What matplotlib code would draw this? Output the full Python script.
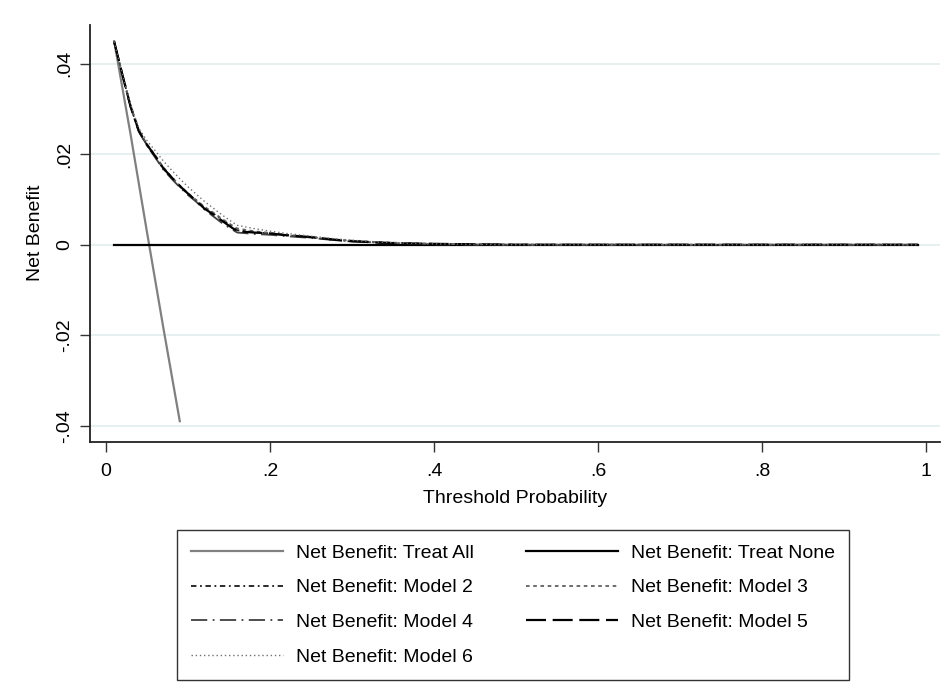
import matplotlib
matplotlib.use("Agg")
import matplotlib.pyplot as plt
import numpy as np

plt.rcParams['font.family'] = ['Liberation Sans', 'DejaVu Sans']

# thresholds
thr_all = [0.01, 0.03, 0.05, 0.07, 0.09]
nb_all = [0.045, 0.0244, 0.0028, -0.0184, -0.039]

thr_none = [0.01, 0.99]
nb_none = [0.0, 0.0]

thr = [0.01, 0.02, 0.03, 0.04, 0.05, 0.06, 0.07, 0.08, 0.09, 0.10, 0.11, 0.12, 0.13, 0.14,
       0.15, 0.16, 0.18, 0.20, 0.22, 0.25, 0.28, 0.30, 0.33, 0.36, 0.40, 0.45, 0.50,
       0.60, 0.70, 0.80, 0.90, 0.99]
nb_m2 = [0.0449, 0.0376, 0.0305, 0.0251, 0.0220, 0.0195, 0.0168, 0.0148, 0.0129, 0.0112, 0.0098, 0.0082, 0.0070, 0.0057,
         0.0045, 0.0032, 0.0028, 0.0025, 0.0021, 0.0016, 0.0010, 0.0008, 0.0005, 0.0003, 0.0002, 0.0001, 0.0,
         0.0, 0.0, 0.0, 0.0, 0.0]
nb_m3 = [0.0449, 0.0377, 0.0307, 0.0254, 0.0222, 0.0198, 0.0171, 0.0150, 0.0131, 0.0114, 0.0099, 0.0084, 0.0072, 0.0059,
         0.0047, 0.0036, 0.0030, 0.0026, 0.0022, 0.0017, 0.0011, 0.0009, 0.0006, 0.0004, 0.0002, 0.0001, 0.0,
         0.0, 0.0, 0.0, 0.0, 0.0]
nb_m4 = [0.0449, 0.0375, 0.0304, 0.0250, 0.0219, 0.0193, 0.0166, 0.0146, 0.0127, 0.0110, 0.0095, 0.0078, 0.0064, 0.0050,
         0.0038, 0.0027, 0.0024, 0.0022, 0.0019, 0.0015, 0.0010, 0.0007, 0.0005, 0.0003, 0.0001, 0.0, 0.0,
         0.0, 0.0, 0.0, 0.0, 0.0]
nb_m5 = [0.0449, 0.0376, 0.0306, 0.0252, 0.0221, 0.0196, 0.0169, 0.0149, 0.0130, 0.0113, 0.0097, 0.0080, 0.0068, 0.0055,
         0.0042, 0.0030, 0.0027, 0.0025, 0.0021, 0.0017, 0.0011, 0.0008, 0.0005, 0.0003, 0.0002, 0.0001, 0.0,
         0.0, 0.0, 0.0, 0.0, 0.0]
nb_m6 = [0.0449, 0.0378, 0.0310, 0.0258, 0.0230, 0.0208, 0.0185, 0.0165, 0.0146, 0.0128, 0.0112, 0.0096, 0.0082, 0.0068,
         0.0055, 0.0043, 0.0036, 0.0030, 0.0025, 0.0019, 0.0013, 0.0010, 0.0006, 0.0004, 0.0002, 0.0001, 0.0,
         0.0, 0.0, 0.0, 0.0, 0.0]

xticks = [0, 0.2, 0.4, 0.6, 0.8, 1.0]
xticklabels = ['0', '.2', '.4', '.6', '.8', '1']
yticks = [-0.04, -0.02, 0.0, 0.02, 0.04]
yticklabels = ['-.04', '-.02', '0', '.02', '.04']

fig = plt.figure(figsize=(9.51, 6.91), dpi=100)
ax = fig.add_axes([0.0946, 0.361, 0.894, 0.603])

for y in yticks:
    ax.axhline(y, color='#e3eeee', lw=1.2, zorder=0)

ax.plot(thr_all, nb_all, color='#808080', lw=1.6, label='Net Benefit: Treat All')
ax.plot(thr_none, nb_none, color='black', lw=1.6, label='Net Benefit: Treat None')
ax.plot(thr, nb_m2, color='#1a1a1a', lw=1.3, dashes=(3, 2, 1, 2), label='Net Benefit: Model 2')
ax.plot(thr, nb_m3, color='#606060', lw=1.3, dashes=(2, 2), label='Net Benefit: Model 3')
ax.plot(thr, nb_m4, color='#404040', lw=1.3, dashes=(9, 3, 1, 3), label='Net Benefit: Model 4')
ax.plot(thr, nb_m5, color='black', lw=1.6, dashes=(9, 3), label='Net Benefit: Model 5')
ax.plot(thr, nb_m6, color='#707070', lw=1.0, dashes=(1, 2), label='Net Benefit: Model 6')

ax.set_xlim(-0.0195, 1.017)
ax.set_ylim(-0.0435, 0.0486)
ax.set_xticks(xticks)
ax.set_xticklabels(xticklabels)
ax.set_yticks(yticks)
ax.set_yticklabels(yticklabels, rotation=90, va='center')
ax.tick_params(labelsize=14, length=7.2, width=1, color='#333333')
ax.tick_params(axis='x', pad=8)
ax.tick_params(axis='y', pad=5)
ax.spines['top'].set_visible(False)
ax.spines['right'].set_visible(False)
for s in ['left', 'bottom']:
    ax.spines[s].set_linewidth(1.3)
    ax.spines[s].set_color('#222222')
ax.set_xlabel('Threshold Probability', fontsize=14, labelpad=7.5)
ax.set_ylabel('Net Benefit', fontsize=14, labelpad=9)

handles, labels = ax.get_legend_handles_labels()
order = [0, 2, 4, 6, 1, 3, 5]
handles = [handles[i] for i in order]
labels = [labels[i] for i in order]
leg = fig.legend(handles, labels, ncol=2, loc='upper left',
                 bbox_to_anchor=(0.186, 0.233), fontsize=14,
                 handlelength=4.75, handletextpad=0.68, columnspacing=2.65,
                 labelspacing=0.88, frameon=True, fancybox=False,
                 borderpad=0.72, borderaxespad=0)
leg.get_frame().set_edgecolor('black')
leg.get_frame().set_linewidth(1.0)

fig.savefig('out.png', dpi=100)
